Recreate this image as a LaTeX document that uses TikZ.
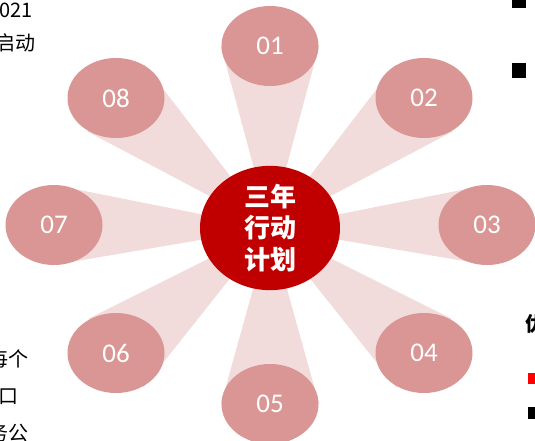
\documentclass[tikz,border=0pt]{standalone}
\usepackage{fontspec}
\setmainfont{Carlito}
\newfontfamily\cjk{Noto Sans CJK SC}
\usetikzlibrary{shapes.geometric,calc}
\definecolor{beam}{RGB}{242,220,219}
\definecolor{petal}{RGB}{217,150,148}
\definecolor{core}{RGB}{192,0,0}
\definecolor{bulletred}{RGB}{255,0,0}
\tikzset{
  petalnode/.style={ellipse, fill=petal, minimum width=97pt, minimum height=80pt, inner sep=0pt,
    text=white, font=\fontsize{27}{27}\selectfont},
  corenode/.style={ellipse, fill=core, minimum width=140pt, minimum height=117pt, inner sep=0pt,
    text=white, align=center, font=\cjk\bfseries\fontsize{26}{31.5}\selectfont},
  edgetext/.style={inner sep=0pt, font=\cjk\fontsize{20}{20}\selectfont, text=black},
}
\begin{document}
\begin{tikzpicture}[x=1pt,y=-1pt]
\useasboundingbox (0,0) rectangle (535,441);
\coordinate (c) at (270,228);
\coordinate (p1) at (270,46);
\coordinate (p2) at (424,98);
\coordinate (p3) at (487,225);
\coordinate (p4) at (424,353);
\coordinate (p5) at (270,404);
\coordinate (p6) at (116,353);
\coordinate (p7) at (54,225);
\coordinate (p8) at (116,98);
% beams
\foreach \i/\w in {1/49,2/44,3/40,4/44,5/49,6/44,7/40,8/44}{
  \fill[beam] (c) -- ($(p\i)!\w pt!90:(c)$) -- ($(p\i)!\w pt!-90:(c)$) -- cycle;
}
% petals
\node[petalnode] (n1) at (p1) {01};
\node[petalnode] (n2) at (p2) {02};
\node[petalnode] (n3) at (p3) {03};
\node[petalnode] (n4) at (p4) {04};
\node[petalnode] (n5) at (p5) {05};
\node[petalnode] (n6) at (p6) {06};
\node[petalnode] (n7) at (p7) {07};
\node[petalnode] (n8) at (p8) {08};
\node[corenode] (center) at (c) {三年\\行动\\计划};
% edge text fragments
\node[edgetext, anchor=base east] (t1) at (33,18) {2021};
\node[edgetext, anchor=base east] (t2) at (36,51) {启动};
\node[edgetext, anchor=base east] (t3) at (29,366) {每个};
\node[edgetext, anchor=base east] (t4) at (19,403) {口};
\node[edgetext, anchor=base east] (t5) at (29,440) {务公};
\node[edgetext, anchor=base west, font=\cjk\bfseries\fontsize{20}{20}\selectfont] (t6) at (525,331) {优};
% bullets
\fill[black] (512,-6) rectangle (526,8);
\fill[black] (512,63) rectangle (526,78);
\fill[bulletred] (528,373) rectangle (541,384);
\fill[black] (528,407) rectangle (541,419);
\end{tikzpicture}
\end{document}
